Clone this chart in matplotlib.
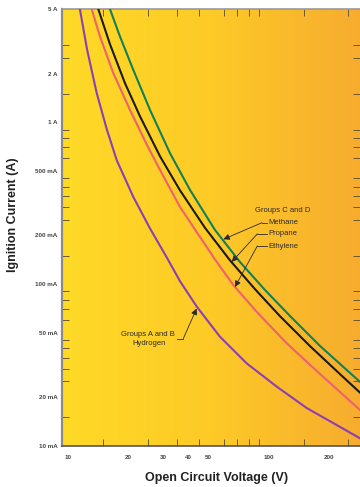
import numpy as np
import matplotlib
matplotlib.use('Agg')
import matplotlib.pyplot as plt
from matplotlib.colors import LinearSegmentedColormap
from matplotlib.ticker import FixedLocator, FixedFormatter, NullFormatter

plt.rcParams['font.family'] = ['Liberation Sans', 'DejaVu Sans']

# ignition curves: voltage (V) vs current (A)
hydrogen_v = [11.5, 12.5, 13.95, 15.65, 17.55, 21.2, 25.7, 31.2, 36.3, 44.0, 57.4, 78.0, 110.1, 155.4, 287]
hydrogen_i = [5.0, 2.80, 1.514, 0.907, 0.583, 0.3468, 0.2208, 0.1457, 0.104, 0.0724, 0.0472, 0.0323, 0.0232, 0.0171, 0.0111]

ethylene_v = [13.17, 14.49, 16.88, 20.44, 24.76, 28.85, 36.29, 45.65, 54.24, 66.92, 87.54, 123.5, 181.0, 286.5]
ethylene_i = [5.0, 3.385, 2.011, 1.192, 0.7293, 0.5073, 0.2995, 0.1953, 0.1418, 0.0985, 0.0673, 0.043, 0.02777, 0.01663]

propane_v = [14.21, 16.25, 19.31, 22.93, 28.85, 36.29, 48.35, 64.44, 85.84, 114.4, 161.4, 227.8, 286.5]
propane_i = [5.0, 3.033, 1.741, 1.088, 0.6157, 0.3793, 0.2225, 0.14, 0.0929, 0.0632, 0.0413, 0.0277, 0.0213]

methane_v = [16.25, 18.23, 21.23, 25.72, 32.36, 40.71, 54.24, 72.25, 96.27, 128.3, 181.0, 286.5]
methane_i = [5.0, 3.385, 2.107, 1.192, 0.6434, 0.3815, 0.2158, 0.1368, 0.0918, 0.0634, 0.0414, 0.0248]

x_labels_at = [10, 20, 30, 40, 50, 100, 200]
x_marks = [15, 20, 25, 30, 35, 40, 45, 50, 60, 70, 80, 90, 100, 150, 200, 250]
y_labels_at = [5, 2, 1, 0.5, 0.2, 0.1, 0.05, 0.02, 0.01]
y_label_text = ['5 A', '2 A', '1 A', '500 mA', '200 mA', '100 mA', '50 mA', '20 mA', '10 mA']
y_marks = [3, 2.5, 2, 1.5, 1, 0.9, 0.8, 0.7, 0.6, 0.5, 0.45, 0.4, 0.35, 0.3, 0.25, 0.2,
           0.15, 0.1, 0.09, 0.08, 0.07, 0.06, 0.05, 0.045, 0.04, 0.035, 0.03, 0.025, 0.02, 0.015]

fig = plt.figure(figsize=(3.6, 4.87), dpi=100)
ax = fig.add_axes([0.1714, 0.0848, 0.8286, 0.8961])

# yellow -> orange background
cmap = LinearSegmentedColormap.from_list('bg', ['#FFDA26', '#FDCA27', '#F7AC2F'])
grad = np.linspace(0, 1, 256).reshape(1, -1)
ax.imshow(grad, extent=[0, 1, 0, 1], transform=ax.transAxes, aspect='auto',
          cmap=cmap, zorder=0)

lw = 1.5
ax.plot(hydrogen_v, hydrogen_i, color='#8C3FB5', lw=lw, zorder=3)
ax.plot(ethylene_v, ethylene_i, color='#F0606E', lw=lw, zorder=3)
ax.plot(propane_v, propane_i, color='#1A1A1A', lw=lw, zorder=3)
ax.plot(methane_v, methane_i, color='#11805A', lw=lw, zorder=3)

ax.set_xscale('log')
ax.set_yscale('log')
ax.set_xlim(9.33, 286.5)
ax.set_ylim(0.01, 5)

# labels on majors (no marks), marks on minors
ax.xaxis.set_major_locator(FixedLocator(x_labels_at))
ax.xaxis.set_major_formatter(FixedFormatter([str(v) for v in x_labels_at]))
ax.xaxis.set_minor_locator(FixedLocator(x_marks))
ax.xaxis.set_minor_formatter(NullFormatter())
ax.yaxis.set_major_locator(FixedLocator(y_labels_at))
ax.yaxis.set_major_formatter(FixedFormatter(y_label_text))
ax.yaxis.set_minor_locator(FixedLocator(y_marks))
ax.yaxis.set_minor_formatter(NullFormatter())

ax.tick_params(which='major', length=0, labelsize=4.5, labelcolor='#444444')
ax.tick_params(axis='x', which='major', pad=7)
ax.tick_params(axis='y', which='major', pad=3)
ax.tick_params(which='minor', direction='in', length=5, width=0.7, color='#6a5a30',
               top=True, right=True)
for lab in ax.get_xticklabels() + ax.get_yticklabels():
    lab.set_fontweight('bold')

ax.spines['left'].set_color('#8a8a8a')
ax.spines['left'].set_linewidth(1.6)
ax.spines['bottom'].set_color('#555555')
ax.spines['bottom'].set_linewidth(1.2)
ax.spines['top'].set_color('#999999')
ax.spines['top'].set_linewidth(1.2)
ax.spines['right'].set_visible(False)

# annotations
txt_kw = dict(fontsize=5.5, color='#2a2a2a', zorder=5)
arrow_kw = dict(arrowstyle='-|>,head_length=0.6,head_width=0.3', color='#2a2a2a',
                lw=0.6, shrinkA=0, shrinkB=0, mutation_scale=6)

ax.text(118.4, 0.283, 'Groups C and D', ha='center', va='center', **txt_kw)
c_and_d = [('Methane', 0.2395, 93, (59.7, 0.189)),
           ('Propane', 0.204, 88.1, (65.7, 0.137)),
           ('Ethylene', 0.1718, 88.1, (68.2, 0.0959))]
for name, ty, ex, tip in c_and_d:
    ax.text(100, ty, name, ha='left', va='center', **txt_kw)
    ax.plot([98, ex], [ty, ty], color='#2a2a2a', lw=0.6, zorder=5)
    ax.annotate('', xy=tip, xytext=(ex, ty), arrowprops=arrow_kw, zorder=5)

ax.text(25.1, 0.0484, 'Groups A and B', ha='center', va='center', **txt_kw)
ax.text(25.3, 0.0426, 'Hydrogen', ha='center', va='center', **txt_kw)
ax.plot([34.9, 37.7], [0.046, 0.046], color='#2a2a2a', lw=0.6, zorder=5)
ax.annotate('', xy=(43.9, 0.0705), xytext=(37.7, 0.046), arrowprops=arrow_kw, zorder=5)

fig.text(216.5 / 360, 1 - 477.7 / 487, 'Open Circuit Voltage (V)', ha='center', va='center',
         fontsize=9, fontweight='bold', color='#222222')
fig.text(13.3 / 360, 1 - 215 / 487, 'Ignition Current (A)', ha='center', va='center',
         rotation=90, fontsize=9, fontweight='bold', color='#222222')

fig.savefig('out.png', dpi=100)
